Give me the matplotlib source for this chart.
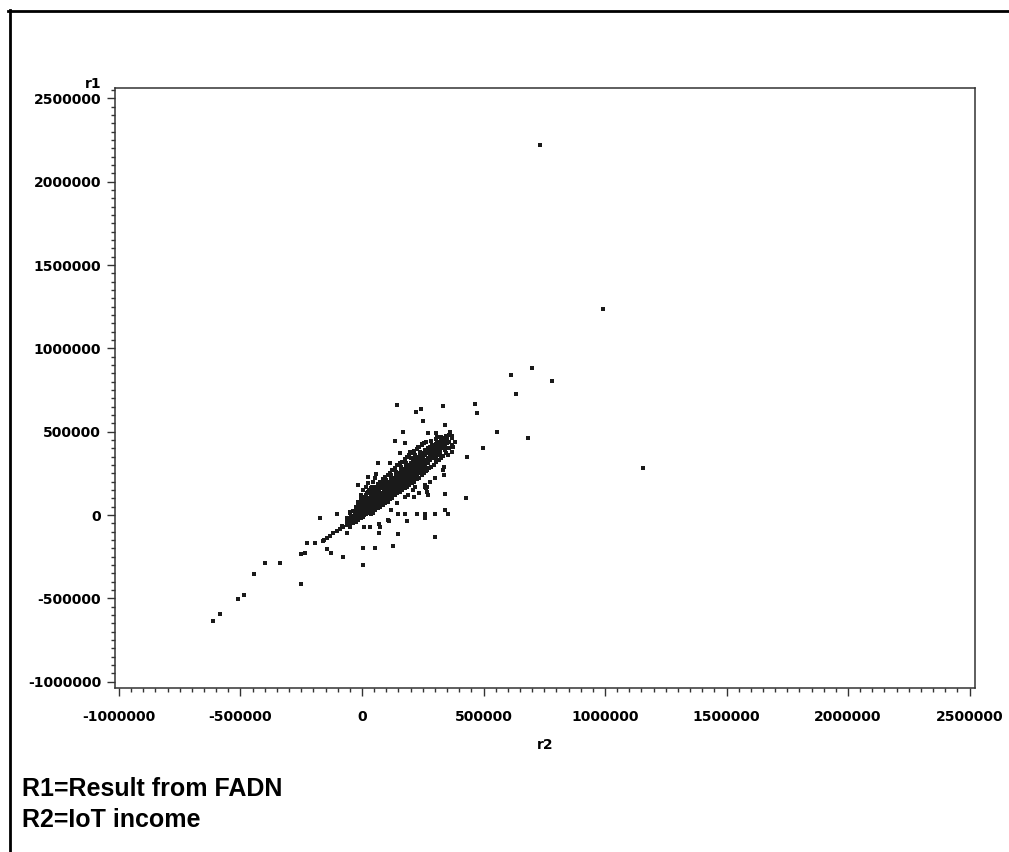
import matplotlib
matplotlib.use("Agg")
import matplotlib.pyplot as plt
from matplotlib.ticker import MultipleLocator
from matplotlib.lines import Line2D

# ---- data (values in thousands) ----
outlier_points = [(732, 2221), (992, 1236), (700, 882), (613, 840), (781, 804),
                  (634, 724), (554, 496), (684, 460), (1156, 282), (499, 400),
                  (433, 350), (427, 100), (466, 664), (475, 610)]

tail_points = [(-614, -634), (-584, -596), (-512, -506), (-484, -480), (-444, -352),
               (-399, -286), (-337, -286), (-250, -416), (-251, -236), (-235, -226),
               (-225, -170), (-193, -170), (-173, -20), (-145, -206), (-129, -226),
               (-77, -250), (3, -300), (3, -196), (53, -196), (126, -186),
               (147, -114), (300, -134), (-104, 6), (-156, -150),
               (-159, -154), (-145, -140), (-132, -126), (-118, -110), (-104, -96),
               (-91, -86), (-77, -70), (-63, -60), (-49, -46), (-36, -30)]

fringe_points = [(143, 660), (222, 620), (243, 636), (335, 654), (252, 564), (343, 540),
                 (170, 500), (272, 490), (303, 494), (137, 446), (177, 434), (342, 126),
                 (337, 290), (337, 240), (342, 30), (354, 6), (300, 6), (259, 6),
                 (259, -20), (225, 6), (177, 6), (187, -34), (266, 140), (259, 180),
                 (214, 110), (110, -34), (71, -106), (-4, 106), (-15, 180), (23, 230),
                 (67, 310), (115, 310), (58, 246), (8, -74), (33, -70), (71, -56),
                 (119, 30), (147, 6), (262, 160), (225, 226), (305, 344), (335, 270),
                 (369, 380), (376, 410), (383, 440), (372, 474), (349, 470), (362, 498),
                 (307, 470), (335, 450), (293, 410), (355, 360), (318, 366), (287, 360),
                 (246, 426), (232, 410), (198, 380), (156, 370), (266, 270), (277, 330),
                 (269, 170), (218, 170), (177, 110), (143, 70), (115, 130), (-49, 20),
                 (-42, -50), (-84, -66), (-63, -106), (-118, -110), (74, -70), (108, -30),
                 (-5, 120), (5, 150), (10, 110), (15, 170), (20, 130), (30, 150),
                 (25, 190), (40, 170), (45, 200), (55, 220), (35, 125),
                 (190, 120), (210, 150), (235, 135), (260, 170), (280, 200), (300, 220),
                 (270, 120)]

# dense core: r2 value -> list of r1 values
core_r1_by_r2 = {
    -60: [-40, -20, -60], -45: [-25, -5, -45], -30: [-10, 10, 0, -30],
    -20: [0, 20, -15, 35], -10: [10, 30, -5, 45, 20], 0: [20, 40, 5, 60, 30],
    10: [30, 50, 15, 70, 0], 20: [40, 60, 25, 80, 10, 50],
    30: [55, 75, 35, 95, 20, 65], 40: [65, 85, 45, 110, 30, 75],
    50: [75, 100, 55, 120, 40, 90], 60: [90, 110, 70, 135, 50, 100],
    70: [100, 125, 80, 150, 60, 115], 80: [110, 135, 90, 160, 70, 125, 185],
    90: [125, 150, 100, 175, 80, 140], 100: [135, 160, 115, 190, 95, 150, 210],
    110: [150, 175, 125, 200, 105, 165], 120: [160, 185, 140, 215, 115, 175, 240],
    130: [170, 200, 150, 225, 130, 190], 140: [185, 210, 160, 240, 140, 200, 260],
    150: [195, 225, 175, 250, 150, 210], 160: [210, 235, 185, 265, 160, 220, 290],
    170: [220, 250, 195, 275, 175, 235], 180: [235, 260, 210, 290, 185, 245, 310],
    190: [245, 275, 220, 300, 200, 260], 200: [260, 285, 235, 315, 210, 270, 340],
    210: [270, 300, 245, 325, 225, 285], 220: [285, 310, 260, 340, 240, 300, 360],
    230: [295, 320, 270, 350, 250, 310], 240: [305, 335, 280, 365, 260, 320, 380],
    250: [320, 345, 295, 375, 270], 260: [330, 360, 305, 390, 285],
    270: [340, 370, 315, 400], 280: [350, 380, 330, 410], 290: [360, 390, 340, 420],
    300: [375, 400, 350], 310: [385, 410, 360, 440], 320: [395, 420, 370],
    330: [405, 430], 340: [415, 445, 390], 350: [430, 455],
}

# outer layer of the core blob
core_edge_r1_by_r2 = {
    -50: [-70, 10], -35: [-50, 25], -25: [-40, 50], -15: [-30, 60, 80],
    -5: [-20, 70, 95], 5: [-10, 85, 100], 15: [5, 95, 120], 25: [15, 105, 140],
    35: [5, 120, 160], 45: [15, 130, 150], 55: [30, 145, 170], 65: [40, 160, 185],
    75: [50, 170, 200], 85: [60, 100, 195, 215], 95: [70, 110, 165, 230],
    105: [80, 120, 180, 240], 115: [95, 135, 190, 255], 125: [105, 150, 205, 270],
    135: [120, 165, 220, 285], 145: [130, 180, 230, 300], 155: [140, 190, 245, 310],
    165: [150, 200, 255, 320], 175: [160, 215, 270, 335], 185: [170, 225, 280, 350],
    195: [180, 235, 290, 360], 205: [190, 250, 305, 370], 215: [200, 260, 320, 385],
    225: [215, 275, 330, 395], 235: [225, 290, 345, 410], 245: [240, 300, 355, 420],
    255: [250, 310, 365, 430], 265: [265, 325, 380, 440], 275: [280, 340, 395],
    285: [290, 350, 405, 445], 295: [300, 365, 415], 305: [320, 380, 425, 455],
    315: [330, 390, 435], 325: [340, 400, 450, 470], 335: [355, 420, 460],
    345: [370, 435, 475], 360: [400, 440, 480], 370: [420, 460],
}

x_ticks = [-1000000, -500000, 0, 500000, 1000000, 1500000, 2000000, 2500000]
y_ticks = [-1000000, -500000, 0, 500000, 1000000, 1500000, 2000000, 2500000]
note_lines = ["R1=Result from FADN", "R2=IoT income"]

# ---- assemble ----
r2, r1 = [], []
for group in (outlier_points, tail_points, fringe_points):
    for a, b in group:
        r2.append(a * 1000)
        r1.append(b * 1000)
for table in (core_r1_by_r2, core_edge_r1_by_r2):
    for a, ys in table.items():
        for b in ys:
            r2.append(a * 1000)
            r1.append(b * 1000)

W, H = 1009, 852
fig = plt.figure(figsize=(W / 100, H / 100), dpi=100)
fig.patch.set_facecolor("white")

# outer frame (top and left lines)
fig.add_artist(Line2D([8 / W, 1], [1 - 10.7 / H, 1 - 10.7 / H],
                      transform=fig.transFigure, color="black", lw=2.0))
fig.add_artist(Line2D([9.5 / W, 9.5 / W], [0, 1 - 10 / H],
                      transform=fig.transFigure, color="black", lw=2.0))

ax = fig.add_axes([115 / W, 1 - 688 / H, (975 - 115) / W, (688 - 88) / H])
ax.set_facecolor("none")
ax.plot(r2, r1, linestyle="none", marker="s", markersize=3.4,
        markeredgewidth=0, color="#1a1a1a")

ax.set_xlim(-1016400, 2522500)
ax.set_ylim(-1038300, 2562900)
ax.set_xticks(x_ticks)
ax.set_yticks(y_ticks)
ax.set_xticklabels([str(v) for v in x_ticks])
ax.set_yticklabels([str(v) for v in y_ticks])
ax.xaxis.set_minor_locator(MultipleLocator(50000))
ax.yaxis.set_minor_locator(MultipleLocator(50000))

for s in ax.spines.values():
    s.set_color("#333333")
    s.set_linewidth(1.1)

ax.tick_params(axis="both", which="major", direction="out", length=6,
               width=1.0, color="#333333", labelsize=10)
ax.tick_params(axis="both", which="minor", direction="out", length=2.8,
               width=1.0, color="#333333")
ax.tick_params(axis="x", which="major", pad=10)
ax.tick_params(axis="y", which="major", pad=4)
for lab in ax.get_xticklabels() + ax.get_yticklabels():
    lab.set_fontweight("bold")
    lab.set_family("DejaVu Sans")

fig.text(102 / W, 1 - 88 / H, "r1", ha="right", va="baseline",
         fontsize=10, fontweight="bold", family="DejaVu Sans")
fig.text(545 / W, 1 - 745 / H, "r2", ha="center", va="center",
         fontsize=10, fontweight="bold", family="DejaVu Sans")

fig.text(22 / W, 1 - 796 / H, note_lines[0], ha="left", va="baseline",
         fontsize=18, fontweight="bold", family="Liberation Sans")
fig.text(22 / W, 1 - 827 / H, note_lines[1], ha="left", va="baseline",
         fontsize=18, fontweight="bold", family="Liberation Sans")

fig.savefig("out.png", dpi=100)
